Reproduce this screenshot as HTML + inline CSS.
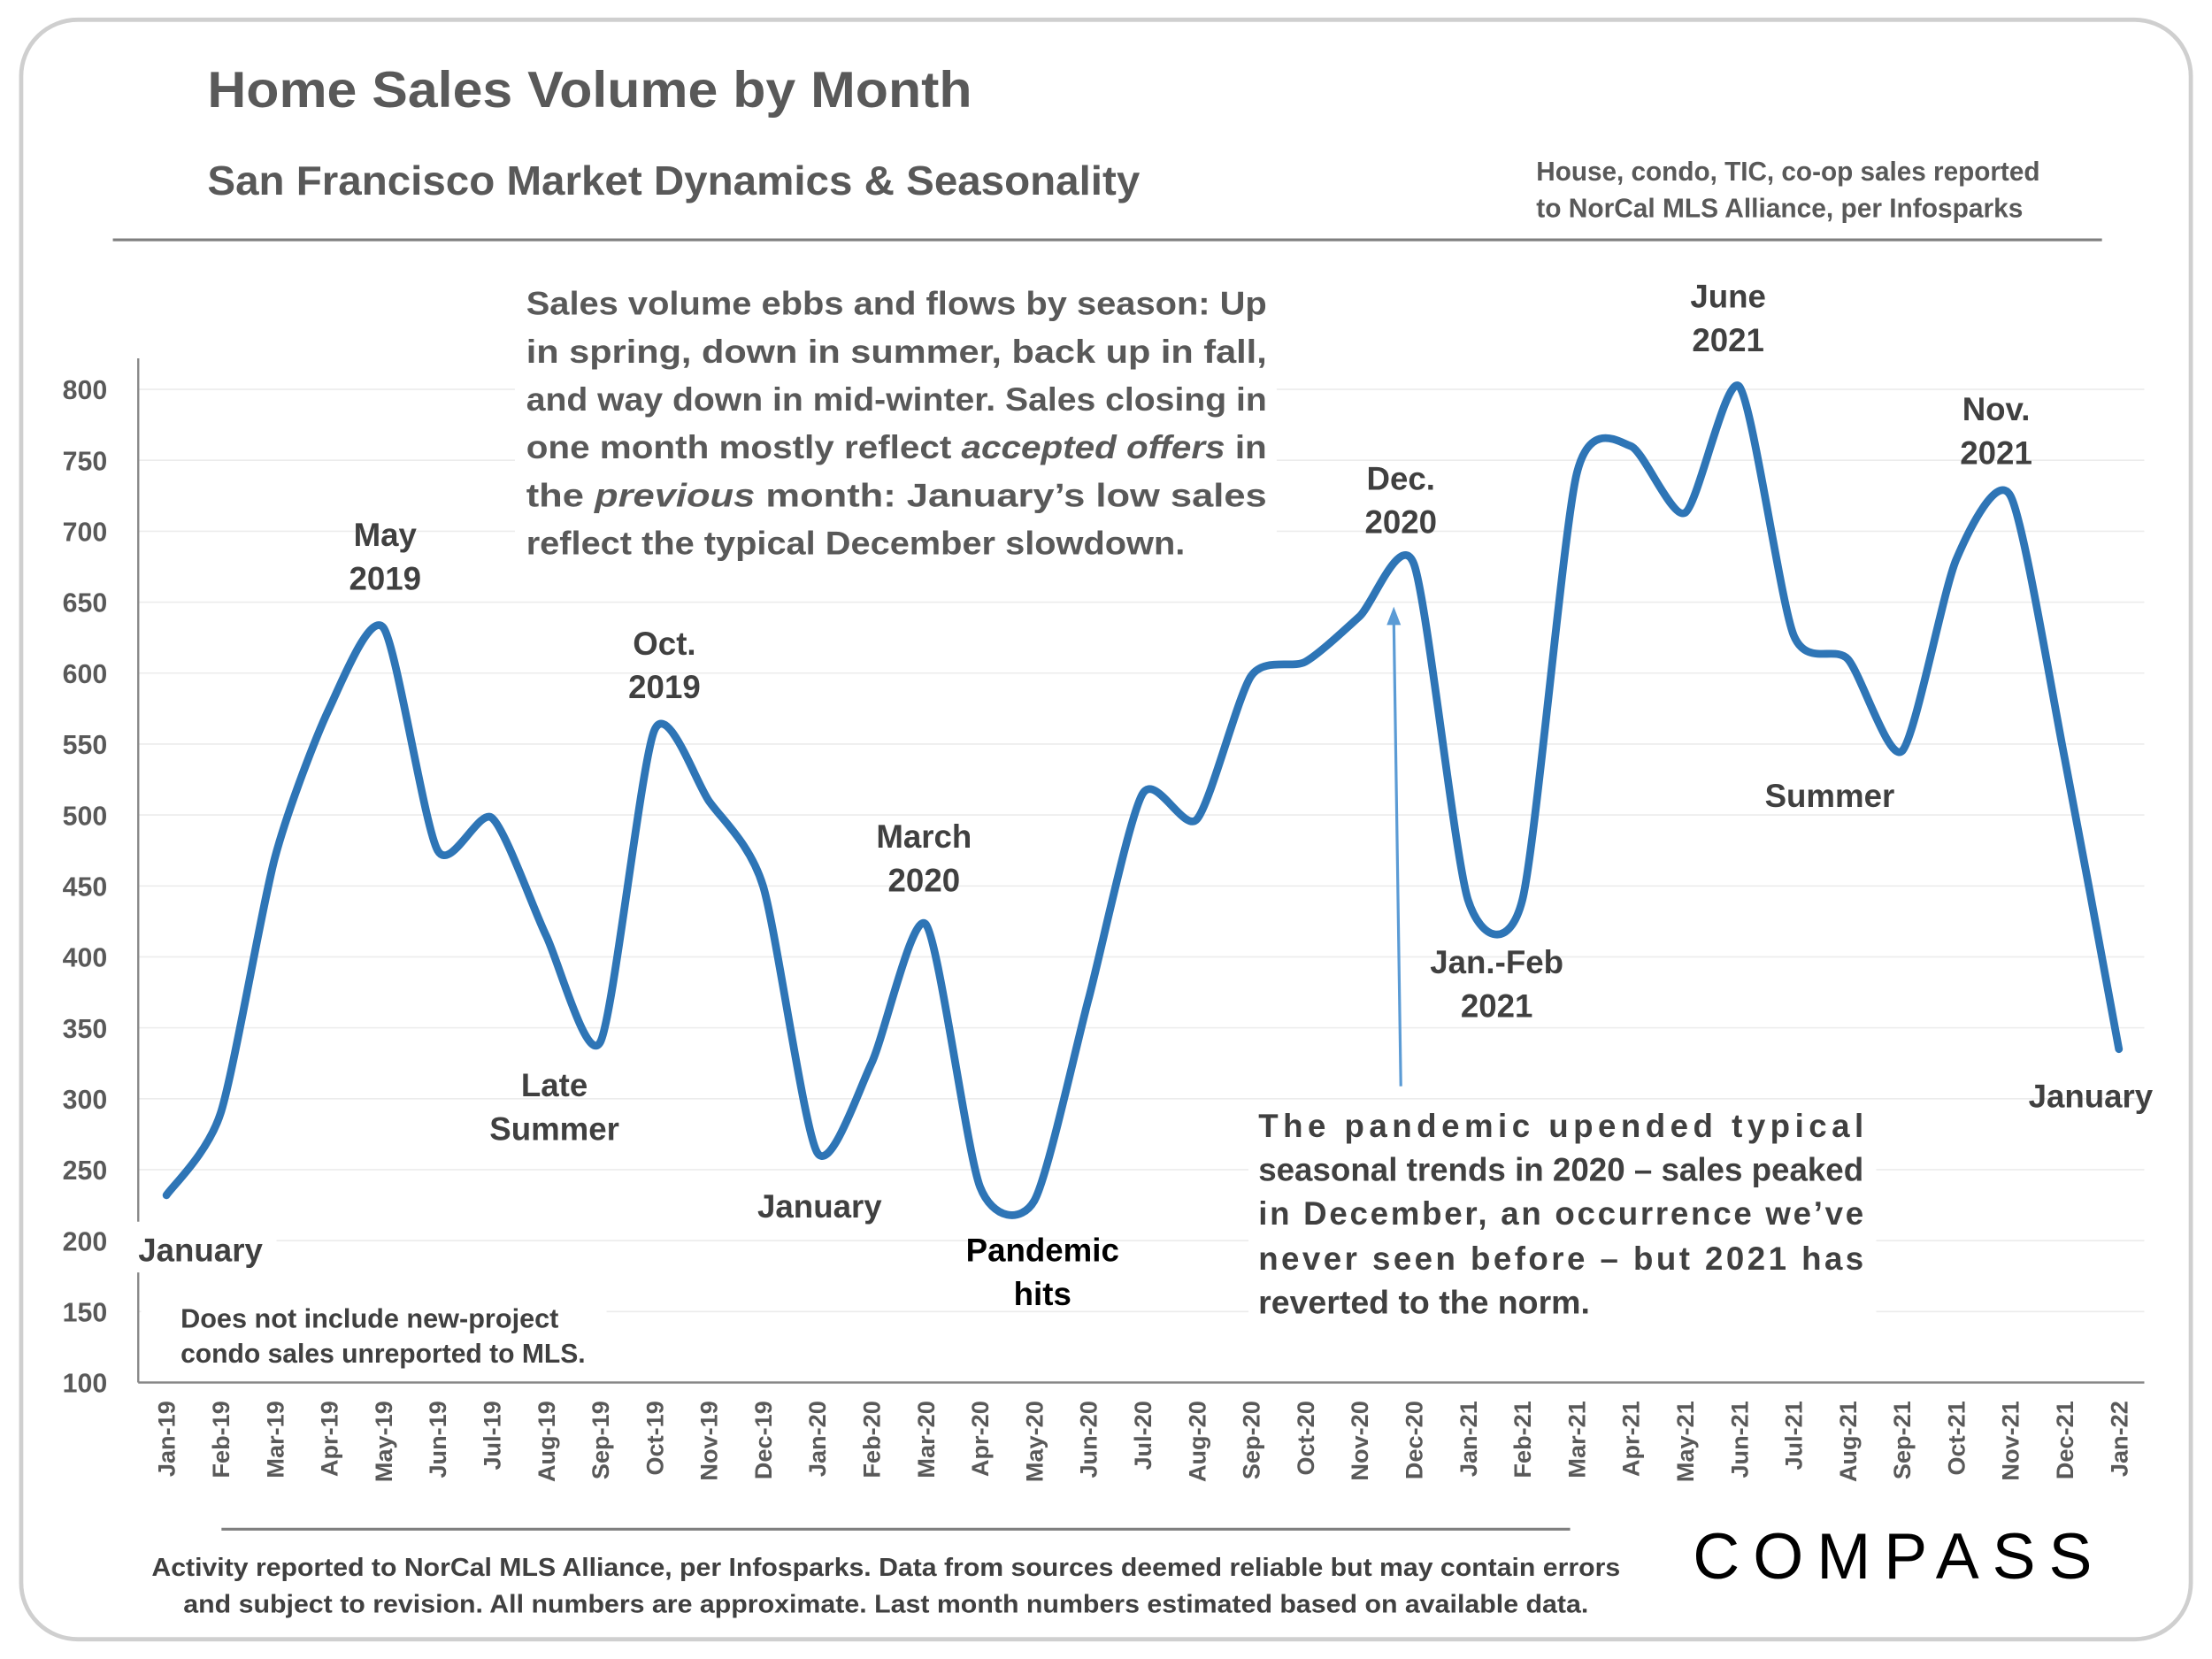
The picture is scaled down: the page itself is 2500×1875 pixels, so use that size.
<!DOCTYPE html>
<html><head><meta charset="utf-8"><style>
html,body{margin:0;padding:0;background:#fff;}
svg{display:block;font-family:"Liberation Sans",sans-serif;font-weight:bold;}
</style></head><body>
<svg id="chart" width="2500" height="1875" viewBox="0 0 1568 1176" xmlns="http://www.w3.org/2000/svg">
<rect x="15" y="14" width="1538" height="1148" rx="40" fill="#fff" stroke="#cfcfcf" stroke-width="3"/>
<text x="147" y="76" font-size="36" fill="#595959" textLength="542" lengthAdjust="spacingAndGlyphs">Home Sales Volume by Month</text>
<text x="147" y="138" font-size="29" fill="#595959" textLength="661" lengthAdjust="spacingAndGlyphs">San Francisco Market Dynamics &amp; Seasonality</text>
<text font-size="19" fill="#595959"><tspan x="1089" y="128" textLength="357" lengthAdjust="spacingAndGlyphs">House, condo, TIC, co-op sales reported</tspan><tspan x="1089" y="154" textLength="345" lengthAdjust="spacingAndGlyphs">to NorCal MLS Alliance, per Infosparks</tspan></text>
<line x1="80" y1="170" x2="1490" y2="170" stroke="#7f7f7f" stroke-width="2"/>
<g id="grid"></g>
<g id="yticks"></g>
<g id="xticks"></g>
<line x1="98" y1="254" x2="98" y2="980" stroke="#888" stroke-width="1.5"/>
<line x1="98" y1="980" x2="1520" y2="980" stroke="#888" stroke-width="1.5"/>
<path id="line" fill="none" stroke="#2e75b6" stroke-width="5.5" stroke-linecap="round" stroke-linejoin="round"/>
<g id="annotations" fill="#404040" font-size="23" text-anchor="middle">
<rect x="365" y="196" width="540" height="210" fill="#fff"/>
<text text-anchor="start" fill="#595959">
<tspan x="373" y="223" textLength="525" lengthAdjust="spacingAndGlyphs">Sales volume ebbs and flows by season: Up</tspan>
<tspan x="373" y="257" textLength="525" lengthAdjust="spacingAndGlyphs">in spring, down in summer, back up in fall,</tspan>
<tspan x="373" y="291" textLength="525" lengthAdjust="spacingAndGlyphs">and way down in mid-winter. Sales closing in</tspan>
<tspan x="373" y="325" textLength="525" lengthAdjust="spacingAndGlyphs">one month mostly reflect <tspan font-style="italic">accepted offers</tspan> in</tspan>
<tspan x="373" y="359" textLength="525" lengthAdjust="spacingAndGlyphs">the <tspan font-style="italic">previous</tspan> month: January’s low sales</tspan>
<tspan x="373" y="393" textLength="467" lengthAdjust="spacingAndGlyphs">reflect the typical December slowdown.</tspan>
</text>
<text><tspan x="273" y="387">May</tspan><tspan x="273" y="418">2019</tspan></text>
<text><tspan x="471" y="464">Oct.</tspan><tspan x="471" y="495">2019</tspan></text>
<text><tspan x="393" y="777">Late</tspan><tspan x="393" y="808">Summer</tspan></text>
<rect x="96" y="866" width="100" height="36" fill="#fff"/>
<text x="98" y="894" text-anchor="start">January</text>
<text x="581" y="863">January</text>
<text><tspan x="655" y="601">March</tspan><tspan x="655" y="632">2020</tspan></text>
<text fill="#000"><tspan x="739" y="894">Pandemic</tspan><tspan x="739" y="925">hits</tspan></text>
<text><tspan x="993" y="347">Dec.</tspan><tspan x="993" y="378">2020</tspan></text>
<text><tspan x="1061" y="690">Jan.-Feb</tspan><tspan x="1061" y="721">2021</tspan></text>
<text><tspan x="1225" y="218">June</tspan><tspan x="1225" y="249">2021</tspan></text>
<text x="1297" y="572">Summer</text>
<text><tspan x="1415" y="298">Nov.</tspan><tspan x="1415" y="329">2021</tspan></text>
<text x="1482" y="785">January</text>
<rect x="885" y="780" width="445" height="160" fill="#fff"/>
<text text-anchor="start">
<tspan x="892" y="806" textLength="429" lengthAdjust="spacing">The pandemic upended typical</tspan>
<tspan x="892" y="837" textLength="429" lengthAdjust="spacingAndGlyphs">seasonal trends in 2020 – sales peaked</tspan>
<tspan x="892" y="868" textLength="429" lengthAdjust="spacing">in December, an occurrence we’ve</tspan>
<tspan x="892" y="900" textLength="429" lengthAdjust="spacing">never seen before – but 2021 has</tspan>
<tspan x="892" y="931" textLength="235" lengthAdjust="spacingAndGlyphs">reverted to the norm.</tspan>
</text>
<line x1="993" y1="770" x2="988" y2="440" stroke="#5b9bd5" stroke-width="2"/>
<polygon points="988,430 983,443 993,443" fill="#5b9bd5"/>
<rect x="100" y="918" width="330" height="56" fill="#fff"/>
<text text-anchor="start" font-size="19" fill="#404040"><tspan x="128" y="941" textLength="268" lengthAdjust="spacingAndGlyphs">Does not include new-project</tspan><tspan x="128" y="966" textLength="287" lengthAdjust="spacingAndGlyphs">condo sales unreported to MLS.</tspan></text>
</g>
<line x1="157" y1="1084" x2="1113" y2="1084" stroke="#7f7f7f" stroke-width="2"/>
<text font-size="18" fill="#404040" text-anchor="middle"><tspan x="628" y="1117" textLength="1041" lengthAdjust="spacingAndGlyphs">Activity reported to NorCal MLS Alliance, per Infosparks. Data from sources deemed reliable but may contain errors</tspan><tspan x="628" y="1143" textLength="996" lengthAdjust="spacingAndGlyphs">and subject to revision. All numbers are approximate. Last month numbers estimated based on available data.</tspan></text>
<text x="1200" y="1119" font-size="46" font-weight="normal" fill="#000" textLength="283" lengthAdjust="spacing">COMPASS</text>
</svg>
<script>
const months = ["Jan-19","Feb-19","Mar-19","Apr-19","May-19","Jun-19","Jul-19","Aug-19","Sep-19","Oct-19","Nov-19","Dec-19","Jan-20","Feb-20","Mar-20","Apr-20","May-20","Jun-20","Jul-20","Aug-20","Sep-20","Oct-20","Nov-20","Dec-20","Jan-21","Feb-21","Mar-21","Apr-21","May-21","Jun-21","Jul-21","Aug-21","Sep-21","Oct-21","Nov-21","Dec-21","Jan-22"];
const sales = [232,290,470,575,632,475,498,415,340,560,510,450,262,325,423,238,228,370,515,497,598,608,640,677,440,440,740,760,713,802,627,610,545,680,725,540,335];
const yTicks = [100,150,200,250,300,350,400,450,500,550,600,650,700,750,800];
const NS = "http://www.w3.org/2000/svg";
const X0 = 118, X1 = 1502, Y0 = 980, Y1 = 276, VMIN = 100, VMAX = 800;
function xs(i){ return X0 + (X1 - X0) * i / (months.length - 1); }
function ys(v){ return Y0 - (v - VMIN) * (Y0 - Y1) / (VMAX - VMIN); }
const grid = document.getElementById('grid'), yt = document.getElementById('yticks'), xt = document.getElementById('xticks');
yTicks.forEach(t => {
  const l = document.createElementNS(NS,'line');
  
  
  l.setAttribute('x1', 98); l.setAttribute('x2', 1520);
  l.setAttribute('y1', ys(t)); l.setAttribute('y2', ys(t));
  l.setAttribute('stroke', '#ececec'); l.setAttribute('stroke-width', 1);
  grid.appendChild(l);
  const tx = document.createElementNS(NS,'text');
  
  
  tx.setAttribute('x', 76); tx.setAttribute('y', ys(t) + 7);
  tx.setAttribute('text-anchor', 'end'); tx.setAttribute('font-size', 19); tx.setAttribute('fill', '#595959');
  tx.textContent = t;
  yt.appendChild(tx);
});
months.forEach((m, i) => {
  const tx = document.createElementNS(NS,'text');
  
  
  const x = xs(i) + 6, y = 993;
  tx.setAttribute('transform', 'translate(' + x + ',' + y + ') rotate(-90)');
  tx.setAttribute('text-anchor', 'end'); tx.setAttribute('font-size', 17); tx.setAttribute('fill', '#595959');
  tx.textContent = m;
  xt.appendChild(tx);
});
const pts = sales.map((v, i) => [xs(i), ys(v)]);
let d = 'M' + pts[0][0] + ',' + pts[0][1];
const k = 0.12;
for (let i = 0; i < pts.length - 1; i++) {
  const p0 = pts[Math.max(0, i - 1)], p1 = pts[i], p2 = pts[i + 1], p3 = pts[Math.min(pts.length - 1, i + 2)];
  const c1 = [p1[0] + (p2[0] - p0[0]) * k, p1[1] + (p2[1] - p0[1]) * k];
  const c2 = [p2[0] - (p3[0] - p1[0]) * k, p2[1] - (p3[1] - p1[1]) * k];
  d += ' C' + c1[0] + ',' + c1[1] + ' ' + c2[0] + ',' + c2[1] + ' ' + p2[0] + ',' + p2[1];
}
document.getElementById('line').setAttribute('d', d);
</script>
</body></html>
